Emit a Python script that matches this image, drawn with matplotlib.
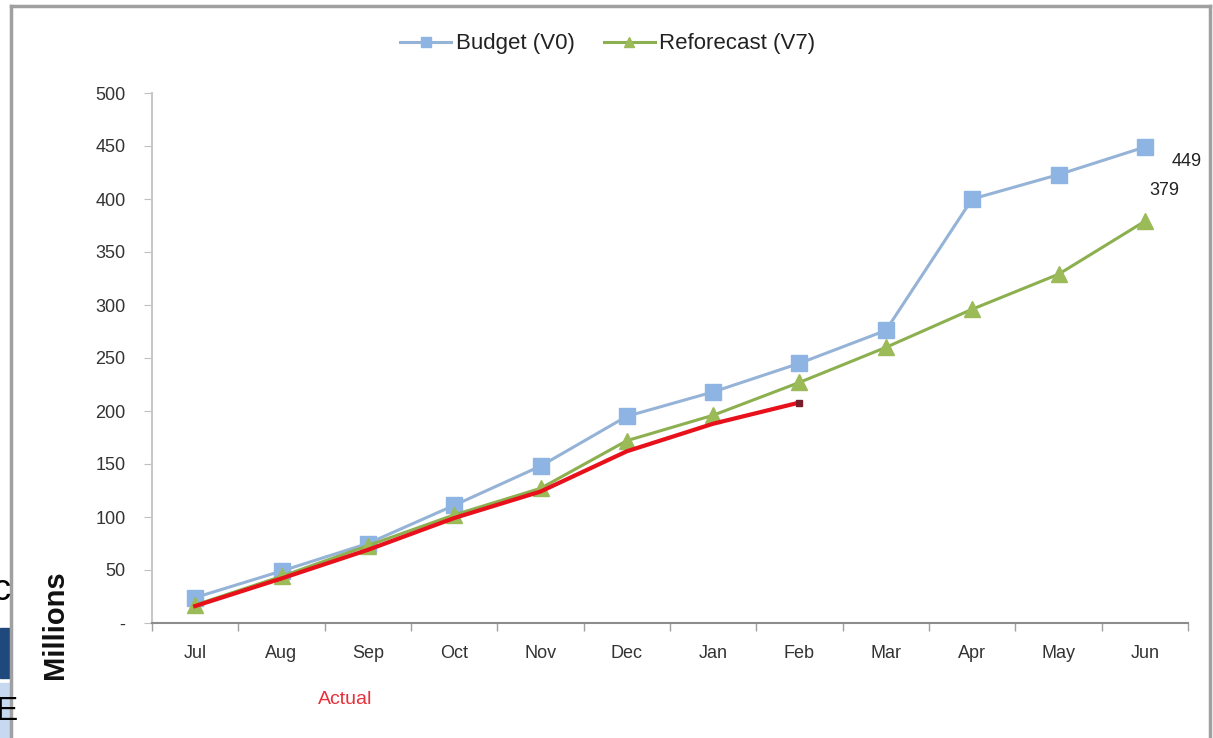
import matplotlib
matplotlib.use("Agg")
import matplotlib.pyplot as plt
from matplotlib.patches import Rectangle
from matplotlib.lines import Line2D

plt.rcParams['font.family'] = ['Liberation Sans', 'DejaVu Sans']

months = ['Jul', 'Aug', 'Sep', 'Oct', 'Nov', 'Dec',
          'Jan', 'Feb', 'Mar', 'Apr', 'May', 'Jun']
budget = [24, 49, 75, 111, 148, 195, 218, 245, 276, 400, 423, 449]
reforecast = [17, 44, 73, 102, 127, 172, 196, 227, 260, 296, 329, 379]
actual = [16, 42, 69, 99, 124, 162, 188, 208]
yticks = [0, 50, 100, 150, 200, 250, 300, 350, 400, 450, 500]
ytick_labels = ['-'] + [str(v) for v in yticks[1:]]

tick_fs = 13

fig = plt.figure(figsize=(12.13, 7.38), dpi=100)
fig.patch.set_facecolor('white')

# fragments of the neighbouring slide on the far left
fig.patches.append(Rectangle((0, 1 - 678 / 738), 10 / 1213, 50 / 738,
                             transform=fig.transFigure, color='#1f497d', zorder=0))
fig.patches.append(Rectangle((0, 0), 10 / 1213, 55 / 738,
                             transform=fig.transFigure, color='#c6d9f1', zorder=0))
fig.text(-0.006, 1 - 590 / 738, 'c', fontsize=26, color='black', va='center', ha='left')
fig.text(-0.004, 1 - 712 / 738, 'E', fontsize=24, color='black', va='center', ha='left')

# screenshot frame
frame_kw = dict(transform=fig.transFigure, color='#a0a0a0', linewidth=2.5)
fig.add_artist(Line2D([11 / 1213, 11 / 1213], [0, 1 - 6 / 738], **frame_kw))
fig.add_artist(Line2D([11 / 1213, 1210 / 1213], [1 - 6 / 738, 1 - 6 / 738], **frame_kw))
fig.add_artist(Line2D([1210 / 1213, 1210 / 1213], [0, 1 - 6 / 738], **frame_kw))

ax = fig.add_axes([152 / 1213, 1 - 623 / 738, (1188 - 152) / 1213, (623 - 93) / 738])
x = range(len(months))

ax.plot(x, budget, color='#95b3d7', linewidth=2.2, marker='s', markersize=11,
        markerfacecolor='#8db4e2', markeredgecolor='#8db4e2', label='Budget (V0)', zorder=3)
ax.plot(x, reforecast, color='#8cb04f', linewidth=2.2, marker='^', markersize=11,
        markerfacecolor='#9bbb59', markeredgecolor='#9bbb59', label='Reforecast (V7)', zorder=4)
ax.plot(range(len(actual)), actual, color='#e8101a', linewidth=3, zorder=5)
ax.plot([len(actual) - 1], [actual[-1]], marker='s', markersize=5,
        color='#7a1d2a', linestyle='none', zorder=6)

ax.text(11.48, budget[-1] - 14, str(budget[-1]), fontsize=tick_fs, color='#222222',
        ha='center', va='center')
ax.text(11.23, reforecast[-1] + 29, str(reforecast[-1]), fontsize=tick_fs, color='#222222',
        ha='center', va='center')

ax.set_xlim(-0.5, 11.5)
ax.set_ylim(0, 500)
ax.set_yticks(yticks)
ax.set_yticklabels(ytick_labels)
ax.set_xticks(list(x))
ax.set_xticklabels(months)
ax.set_xticks([i - 0.5 for i in range(13)], minor=True)
ax.tick_params(axis='x', which='major', length=0, pad=16, labelsize=tick_fs, labelcolor='#333333')
ax.tick_params(axis='x', which='minor', length=6, color='#a0a0a0', width=1)
ax.tick_params(axis='y', length=6, color='#c0c0c0', pad=13, labelsize=tick_fs, labelcolor='#333333')

for s in ['top', 'right']:
    ax.spines[s].set_visible(False)
ax.spines['left'].set_color('#c8c8c8')
ax.spines['left'].set_linewidth(1.5)
ax.spines['bottom'].set_color('#8c8c8c')
ax.spines['bottom'].set_linewidth(1.5)

fig.text(55 / 1213, 1 - 625 / 738, 'Millions', rotation=90, fontsize=21,
         fontweight='bold', color='#111111', ha='center', va='center')
fig.text(345 / 1213, 1 - 700 / 738, 'Actual', fontsize=14, color='#e8303a',
         ha='center', va='center')

ax.legend(loc='center', bbox_to_anchor=(0.44, 1 + 49 / 530), ncol=2, frameon=False,
          fontsize=16, handlelength=2.3, columnspacing=1.3, handletextpad=0.2,
          markerscale=0.7, labelcolor='#222222')

fig.savefig('out.png', dpi=100, facecolor='white')
